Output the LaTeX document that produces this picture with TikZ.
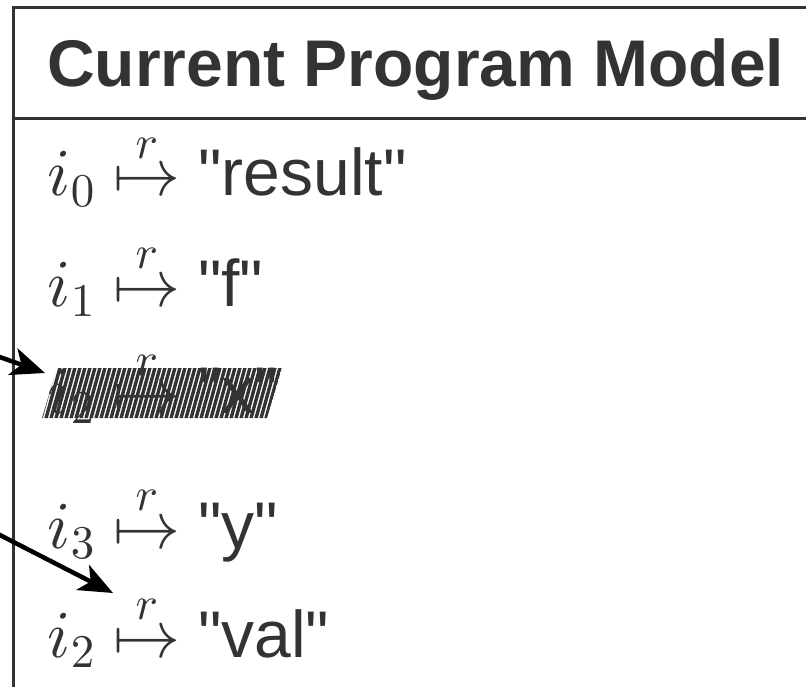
\documentclass[tikz,border=0pt]{standalone}
\usepackage{amsmath}
\usepackage[no-math]{fontspec}
\newfontfamily\lsans{Liberation Sans}
% freely scalable Computer Modern math fonts
\DeclareFontShape{OML}{cmm}{m}{it}{<->cmmi10}{}
\DeclareFontShape{OMS}{cmsy}{m}{n}{<->cmsy10}{}
\DeclareFontShape{OMX}{cmex}{m}{n}{<->cmex10}{}
\DeclareFontShape{OT1}{cmr}{m}{n}{<->cmr10}{}
\usetikzlibrary{arrows.meta}
\definecolor{ink}{HTML}{333333}
\tikzset{
  frame/.style={draw=ink, line width=3pt},
  headtext/.style={font=\fontsize{66}{70}\selectfont\lsans\bfseries, text=ink, inner sep=0pt, anchor=base west},
  mathlbl/.style={font=\fontsize{67}{70}\selectfont, text=ink, inner sep=0pt, anchor=base west},
  strlbl/.style={font=\fontsize{66}{70}\selectfont\lsans, text=ink, inner sep=0pt, anchor=base west},
  pointer/.style={draw=black, line width=4.5pt, -{Stealth[length=34pt,width=28pt,inset=9pt]}},
  strike/.style={draw=ink, line width=3.4pt},
}
\begin{document}
\begin{tikzpicture}[x=1pt, y=-1pt]
  \useasboundingbox (0,0) rectangle (806,687);

  % frame of the model panel
  \draw[frame] (13,700) -- (13,8) -- (820,8);
  \draw[frame] (13,119) -- (820,119);
  \node[headtext] (head) at (47,87) {Current Program Model};

  % register entries
  \node[mathlbl] (m0) at (47.5,196) {$i_0 \overset{r}{\mapsto}$};
  \node[strlbl]  (s0) at (198,196) {"result"};
  \node[mathlbl] (m1) at (47.5,306) {$i_1 \overset{r}{\mapsto}$};
  \node[strlbl]  (s1) at (198,306) {"f"};
  \node[mathlbl] (m2) at (47.5,413) {$i_2 \overset{r}{\mapsto}$};
  \node[strlbl]  (s2) at (198,413) {"x"};
  \node[mathlbl] (m3) at (47.5,548) {$i_3 \overset{r}{\mapsto}$};
  \node[strlbl]  (s3) at (198,548) {"y"};
  \node[mathlbl] (m4) at (47.5,657) {$i_2 \overset{r}{\mapsto}$};
  \node[strlbl]  (s4) at (198,657) {"val"};

  % struck-out entry
  \coordinate (pNW) at (57,368);
  \coordinate (pNE) at (282,368);
  \coordinate (pSE) at (267,418);
  \coordinate (pSW) at (42,418);
  \begin{scope}
    \clip (pNW) -- (pNE) -- (pSE) -- (pSW) -- cycle;
    \foreach \k in {0,...,50} {
      \draw[strike] (30+5*\k,422) -- (46+5*\k,364);
    }
  \end{scope}

  % pointers coming in from the left
  \coordinate (src1) at (-6,355);
  \coordinate (dst1) at (45,373);
  \coordinate (src2) at (-6,532);
  \coordinate (dst2) at (113,593);
  \draw[pointer] (src1) -- (dst1);
  \draw[pointer] (src2) -- (dst2);
\end{tikzpicture}
\end{document}
